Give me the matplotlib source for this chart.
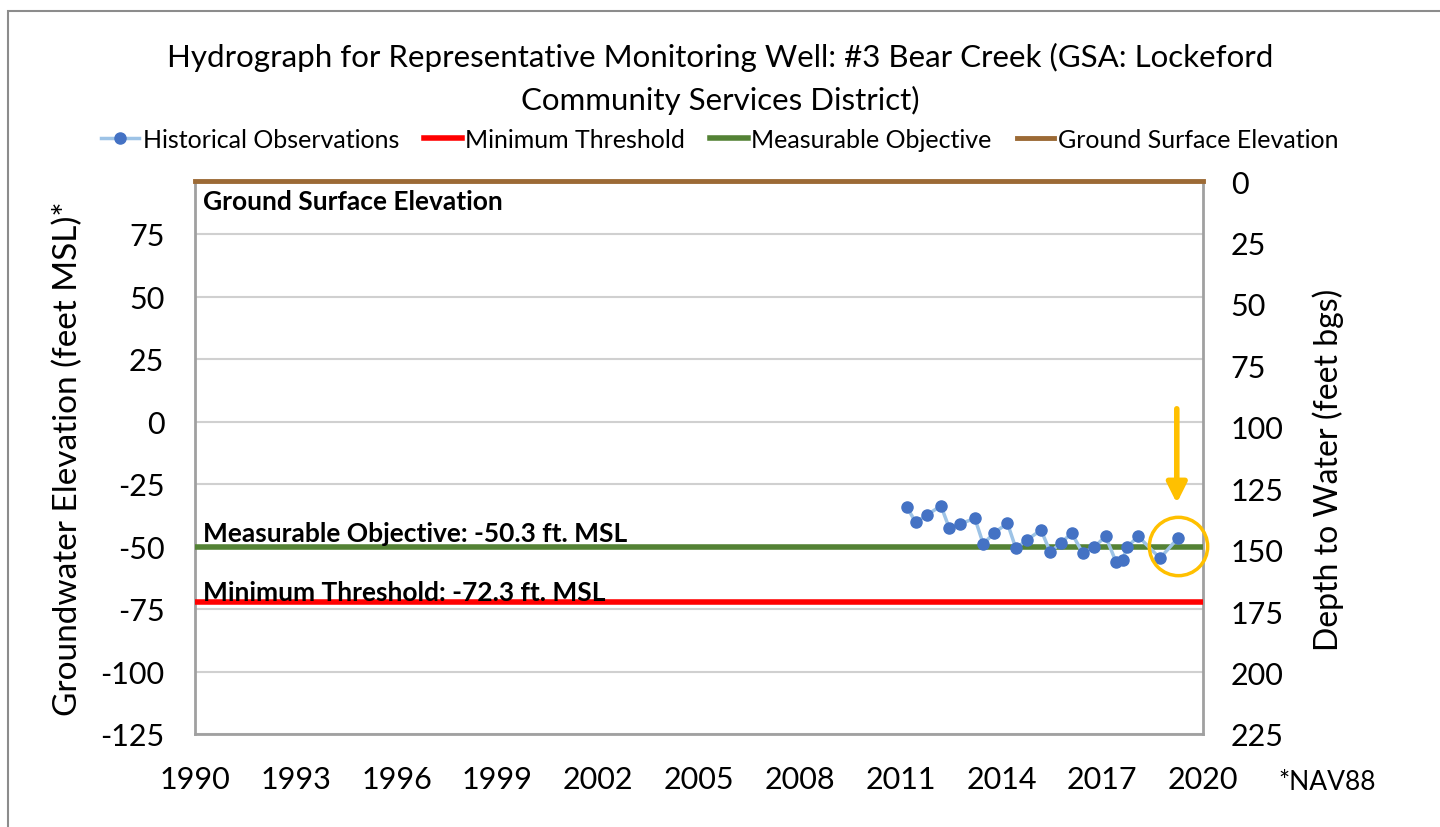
import matplotlib
matplotlib.use('Agg')
import matplotlib.pyplot as plt
from matplotlib.patches import Rectangle
import numpy as np

plt.rcParams['font.family'] = ['Lato', 'DejaVu Sans']
plt.rcParams['axes.unicode_minus'] = False

# observation dates (decimal year) and groundwater elevation (ft MSL)
obs_year = [2011.18, 2011.45, 2011.79, 2012.20, 2012.45, 2012.77, 2013.21, 2013.46,
            2013.78, 2014.18, 2014.43, 2014.77, 2015.18, 2015.45, 2015.77, 2016.09,
            2016.42, 2016.76, 2017.10, 2017.41, 2017.61, 2017.74, 2018.07, 2018.72,
            2019.25]
obs_elev = [-34.1, -40.3, -37.4, -33.7, -42.7, -41.0, -38.7, -49.0,
            -44.6, -40.7, -50.7, -47.3, -43.4, -52.1, -48.7, -44.6,
            -52.6, -50.3, -45.9, -56.1, -55.3, -50.3, -45.9, -54.7,
            -46.7]

min_threshold = -72.3
meas_objective = -50.3
ground_surface = 96.2

x_ticks = list(range(1990, 2021, 3))
left_ticks = list(range(-125, 76, 25))
right_ticks = list(range(0, 226, 25))

fig = plt.figure(figsize=(14.4, 8.28), dpi=100)
ax = fig.add_axes([195 / 1440, 1 - 735 / 828, 1008 / 1440, (735 - 182) / 828])

# outer chart border
fig.patches.append(Rectangle((8 / 1440, -0.1), 1.2, 1 - 12 / 828 + 0.1, transform=fig.transFigure,
                             fill=False, edgecolor='#8c8c8c', linewidth=1.5, zorder=0))

ax.set_xlim(1990, 2020)
ax.set_ylim(-125, ground_surface)
ax.set_xticks(x_ticks)
ax.set_yticks(left_ticks)
ax.tick_params(axis='x', length=0, labelsize=22, pad=22)
ax.tick_params(axis='y', length=0, labelsize=22, pad=22)
ax.grid(axis='y', color='#d0d0d0', linewidth=1.5)
ax.set_axisbelow(True)
for s in ['left', 'bottom', 'right']:
    ax.spines[s].set_color('#a0a0a0')
    ax.spines[s].set_linewidth(2)
ax.spines['top'].set_visible(False)

ax.axhline(ground_surface, color='#9c6a35', linewidth=3.5, clip_on=False, zorder=4,
           label='Ground Surface Elevation')
ax.axhline(meas_objective, color='#548235', linewidth=4, zorder=3, label='Measurable Objective')
ax.axhline(min_threshold, color='#ff0000', linewidth=4, zorder=3, label='Minimum Threshold')
ax.plot(obs_year, obs_elev, color='#9dc3e6', linewidth=2.5, marker='o', markersize=8,
        markerfacecolor='#4472c4', markeredgecolor='#4472c4', zorder=5,
        label='Historical Observations')

ax.text(1990.25, 88, 'Ground Surface Elevation', fontsize=19, fontweight='bold', va='center')
ax.text(1990.25, meas_objective + 1.0, 'Measurable Objective: -50.3 ft. MSL', fontsize=19,
        fontweight='bold', va='bottom')
ax.text(1990.25, min_threshold - 0.8, 'Minimum Threshold: -72.3 ft. MSL', fontsize=19,
        fontweight='bold', va='bottom')

# highlight latest observation
ax.annotate('', xy=(2019.22, -33.8), xytext=(2019.22, 6.2),
            arrowprops=dict(arrowstyle='-|>', color='#ffc000', lw=4, mutation_scale=30))
ax.plot([2019.25], [-49.6], marker='o', markersize=42, markerfacecolor='none',
        markeredgecolor='#ffc000', markeredgewidth=2.5, clip_on=False, zorder=6)

ax.set_ylabel('Groundwater Elevation (feet MSL)*', fontsize=24)
ax.yaxis.set_label_coords(-0.111, 0.5)

ax2 = ax.twinx()
ax2.set_ylim(225, 0)
ax2.set_yticks(right_ticks)
ax2.tick_params(length=0, labelsize=22, pad=20)
for s in ax2.spines.values():
    s.set_visible(False)
ax2.set_ylabel('Depth to Water (feet bgs)', fontsize=23)
ax2.yaxis.set_label_coords(1.109, 0.48)

fig.text(0.5, 1 - 57 / 828, 'Hydrograph for Representative Monitoring Well: #3 Bear Creek (GSA: Lockeford',
         ha='center', va='center', fontsize=22.5)
fig.text(0.5, 1 - 100 / 828, 'Community Services District)', ha='center', va='center', fontsize=22.5)

h, l = ax.get_legend_handles_labels()
order = [3, 2, 1, 0]
fig.legend([h[i] for i in order], [l[i] for i in order], loc='center', ncol=4,
           bbox_to_anchor=(0.5, 1 - 140 / 828), frameon=False, fontsize=18,
           handlelength=1.5, handletextpad=0.15, columnspacing=1.0)

fig.text(1327 / 1440, 1 - 783 / 828, '*NAV88', ha='center', va='center', fontsize=19)

plt.savefig('out.png', dpi=100)
